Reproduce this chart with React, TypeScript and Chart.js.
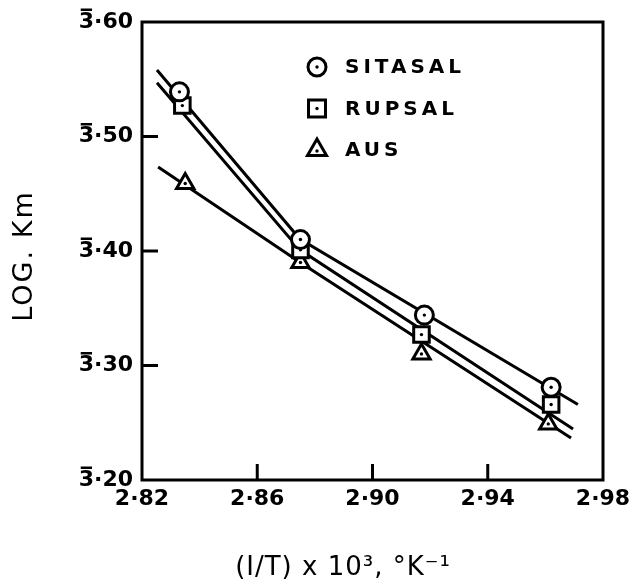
import React, { useEffect, useRef } from "react";
import { Chart, registerables } from "chart.js";

Chart.register(...registerables);

// ---- data ----
const seriesNames = ["SITASAL", "RUPSAL", "AUS"];
const seriesStyles = ["circle", "rect", "triangle"];

const sitasalX = [2.833, 2.875, 2.918, 2.962];
const sitasalY = [3.539, 3.410, 3.344, 3.281];
const rupsalX = [2.834, 2.875, 2.917, 2.962];
const rupsalY = [3.527, 3.401, 3.327, 3.266];
const ausX = [2.835, 2.875, 2.917, 2.961];
const ausY = [3.459, 3.390, 3.310, 3.249];

// fitted (broken) lines: start, break, end
const sitasalLineX = [2.8252, 2.8748, 2.9713];
const sitasalLineY = [3.558, 3.4105, 3.266];
const rupsalLineX = [2.8252, 2.8748, 2.9696];
const rupsalLineY = [3.547, 3.401, 3.2445];
const ausLineX = [2.8256, 2.8752, 2.9689];
const ausLineY = [3.4734, 3.3895, 3.2367];

const xTickValues = [2.82, 2.86, 2.9, 2.94, 2.98];
const xTickLabels = ["2·82", "2·86", "2·90", "2·94", "2·98"];
const yTickValues = [3.2, 3.3, 3.4, 3.5, 3.6];
const yTickLabels = ["3·20", "3·30", "3·40", "3·50", "3·60"];

const xTitle = "(I/T) x 10³, °K⁻¹";
const yTitle = "LOG. Km";

const FONT = "'DejaVu Sans', sans-serif";
const TICK_FONT = `bold 22px ${FONT}`;
const Y_TICK_PAD = 9;

function pts(xs: number[], ys: number[]) {
  return xs.map((x, i) => ({ x, y: ys[i] }));
}

function drawMarker(ctx: CanvasRenderingContext2D, style: string, x: number, y: number, r: number) {
  ctx.beginPath();
  if (style === "circle") {
    ctx.arc(x, y, r, 0, Math.PI * 2);
  } else if (style === "rect") {
    const s = r * Math.SQRT1_2;
    ctx.rect(x - s, y - s, 2 * s, 2 * s);
  } else {
    let rad = 0;
    ctx.moveTo(x + Math.sin(rad) * r, y - Math.cos(rad) * r);
    rad += (2 * Math.PI) / 3;
    ctx.lineTo(x + Math.sin(rad) * r, y - Math.cos(rad) * r);
    rad += (2 * Math.PI) / 3;
    ctx.lineTo(x + Math.sin(rad) * r, y - Math.cos(rad) * r);
    ctx.closePath();
  }
  ctx.fillStyle = "#fff";
  ctx.fill();
  ctx.lineWidth = 3;
  ctx.strokeStyle = "#000";
  ctx.stroke();
  ctx.beginPath();
  ctx.arc(x, style === "triangle" ? y + 1 : y, 1.7, 0, Math.PI * 2);
  ctx.fillStyle = "#000";
  ctx.fill();
}

const markerRadius: Record<string, number> = { circle: 9, rect: 11, triangle: 10 };

const framePlugin = {
  id: "framePlugin",
  afterDraw(chart: any) {
    const { ctx, chartArea } = chart;
    const { left, top, right, bottom } = chartArea;
    const xs = chart.scales.x;
    const ys = chart.scales.y;
    ctx.save();
    ctx.strokeStyle = "#000";
    ctx.lineWidth = 3;
    ctx.lineCap = "square";
    ctx.strokeRect(left, top, right - left, bottom - top);
    // inward ticks
    ctx.lineCap = "butt";
    xTickValues.slice(1, -1).forEach((v) => {
      const px = xs.getPixelForValue(v);
      ctx.beginPath();
      ctx.moveTo(px, bottom);
      ctx.lineTo(px, bottom - 16);
      ctx.stroke();
    });
    yTickValues.slice(1, -1).forEach((v) => {
      const py = ys.getPixelForValue(v);
      ctx.beginPath();
      ctx.moveTo(left, py);
      ctx.lineTo(left + 16, py);
      ctx.stroke();
    });

    // bar over the characteristic "3" of the y tick labels (bar notation)
    ctx.font = TICK_FONT;
    ctx.fillStyle = "#000";
    yTickValues.forEach((v, i) => {
      const py = ys.getPixelForValue(v);
      const label = yTickLabels[i];
      const w = ctx.measureText(label).width;
      const w3 = ctx.measureText(label.charAt(0)).width;
      const x0 = left - Y_TICK_PAD - w;
      ctx.fillRect(x0 + 2, py - 13.5, w3 - 4, 2.5);
    });

    // legend inside the plot
    const lx = left + 175;
    const ly0 = top + 45;
    seriesNames.forEach((name, i) => {
      const y = ly0 + i * 41.5;
      const st = seriesStyles[i];
      drawMarker(ctx, st, lx, y, st === "rect" ? 12 : st === "circle" ? 9 : 11);
      ctx.fillStyle = "#000";
      ctx.font = `bold 20px ${FONT}`;
      (ctx as any).letterSpacing = "4px";
      ctx.textAlign = "left";
      ctx.textBaseline = "middle";
      ctx.fillText(name, lx + 28, y + 1);
    });

    // axis titles
    (ctx as any).letterSpacing = "1px";
    ctx.font = `26px ${FONT}`;
    ctx.textAlign = "center";
    ctx.textBaseline = "middle";
    ctx.fillText(xTitle, 343, 568);

    (ctx as any).letterSpacing = "2px";
    ctx.font = `27px ${FONT}`;
    ctx.translate(25, 256);
    ctx.rotate(-Math.PI / 2);
    ctx.fillText(yTitle, 0, 0);
    ctx.restore();
  },
};

export default function App() {
  const ref = useRef<HTMLCanvasElement | null>(null);

  useEffect(() => {
    document.body.style.margin = "0";
    const canvas = ref.current;
    if (!canvas) return;

    const lineSets = [
      pts(sitasalLineX, sitasalLineY),
      pts(rupsalLineX, rupsalLineY),
      pts(ausLineX, ausLineY),
    ];
    const pointSets = [pts(sitasalX, sitasalY), pts(rupsalX, rupsalY), pts(ausX, ausY)];

    const datasets: any[] = [];
    seriesNames.forEach((name, i) => {
      datasets.push({
        label: name + " line",
        data: lineSets[i],
        showLine: true,
        borderColor: "#000",
        borderWidth: 3,
        pointRadius: 0,
        tension: 0,
        order: 3,
      });
      datasets.push({
        label: name,
        data: pointSets[i],
        showLine: false,
        pointStyle: seriesStyles[i],
        pointRadius: markerRadius[seriesStyles[i]],
        pointBackgroundColor: "#fff",
        pointBorderColor: "#000",
        pointBorderWidth: 3,
        order: 2,
      });
      datasets.push({
        label: name + " dot",
        data: pointSets[i],
        showLine: false,
        pointStyle: "circle",
        pointRadius: 1.7,
        pointBackgroundColor: "#000",
        pointBorderWidth: 0,
        order: 1,
      });
    });

    const chart = new Chart(canvas, {
      type: "scatter",
      data: { datasets },
      options: {
        responsive: false,
        animation: false,
        devicePixelRatio: 1,
        layout: { padding: { left: 0, top: 22, right: 27, bottom: 0 } },
        plugins: {
          legend: { display: false },
          tooltip: { enabled: false },
        },
        scales: {
          x: {
            type: "linear",
            min: 2.82,
            max: 2.98,
            grid: { display: false, drawTicks: false },
            border: { display: false },
            afterBuildTicks: (scale: any) => {
              scale.ticks = xTickValues.map((v) => ({ value: v }));
            },
            afterFit: (scale: any) => {
              scale.height = 108;
              scale.paddingRight = 0;
              scale.paddingLeft = 0;
            },
            ticks: {
              autoSkip: false,
              maxRotation: 0,
              padding: 6,
              color: "#000",
              font: { family: FONT, size: 22, weight: "bold" },
              callback: (_v: any, i: number) => xTickLabels[i],
            },
          },
          y: {
            type: "linear",
            min: 3.2,
            max: 3.6,
            grid: { display: false, drawTicks: false },
            border: { display: false },
            afterBuildTicks: (scale: any) => {
              scale.ticks = yTickValues.map((v) => ({ value: v }));
            },
            afterFit: (scale: any) => {
              scale.width = 142;
              scale.paddingTop = 0;
              scale.paddingBottom = 0;
            },
            ticks: {
              autoSkip: false,
              padding: Y_TICK_PAD,
              color: "#000",
              font: { family: FONT, size: 22, weight: "bold" },
              callback: (_v: any, i: number) => yTickLabels[i],
            },
          },
        },
      },
      plugins: [framePlugin],
    });

    return () => chart.destroy();
  }, []);

  return (
    <div style={{ width: 630, height: 588, background: "#fff" }}>
      <canvas ref={ref} width={630} height={588} style={{ display: "block" }} />
    </div>
  );
}
